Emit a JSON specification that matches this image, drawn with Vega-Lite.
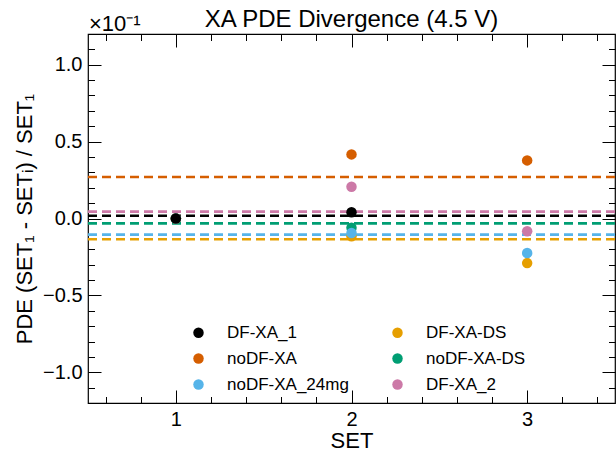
{
  "$schema": "https://vega.github.io/schema/vega-lite/v6.json",
  "width": 527,
  "height": 369,
  "autosize": {"type": "none"},
  "padding": {"left": 88, "top": 34, "right": 1, "bottom": 49},
  "title": {"text": "XA PDE Divergence (4.5 V)", "fontSize": 24, "font": "Liberation Sans", "fontWeight": "normal", "color": "#000", "anchor": "middle", "offset": -19},
  "config": {
    "font": "Liberation Sans",
    "view": {"stroke": "#000", "strokeWidth": 1.2},
    "axis": {"grid": false, "domain": false, "tickColor": "#000", "tickWidth": 1, "labelColor": "#000", "titleColor": "#000", "labelFont": "Liberation Sans", "titleFont": "Liberation Sans", "labelFontSize": 20, "titleFontSize": 22, "titleFontWeight": "normal"}
  },
  "datasets": {
    "points": [
      {"series": "noDF-XA", "set": 1, "pde": 0},
      {"series": "noDF-XA", "set": 2, "pde": 0.417},
      {"series": "noDF-XA", "set": 3, "pde": 0.378},
      {"series": "DF-XA_2", "set": 1, "pde": 0},
      {"series": "DF-XA_2", "set": 2, "pde": 0.207},
      {"series": "DF-XA_2", "set": 3, "pde": -0.083},
      {"series": "noDF-XA-DS", "set": 1, "pde": 0},
      {"series": "noDF-XA-DS", "set": 2, "pde": -0.06},
      {"series": "DF-XA-DS", "set": 1, "pde": 0},
      {"series": "DF-XA-DS", "set": 2, "pde": -0.116},
      {"series": "DF-XA-DS", "set": 3, "pde": -0.29},
      {"series": "noDF-XA_24mg", "set": 1, "pde": 0},
      {"series": "noDF-XA_24mg", "set": 2, "pde": -0.094},
      {"series": "noDF-XA_24mg", "set": 3, "pde": -0.224},
      {"series": "DF-XA_1", "set": 1, "pde": 0},
      {"series": "DF-XA_1", "set": 2, "pde": 0.041}
    ],
    "means": [
      {"series": "noDF-XA", "mean": 0.27},
      {"series": "DF-XA-DS", "mean": -0.135},
      {"series": "noDF-XA_24mg", "mean": -0.105},
      {"series": "noDF-XA-DS", "mean": -0.032},
      {"series": "DF-XA_2", "mean": 0.045},
      {"series": "DF-XA_1", "mean": 0.018}
    ],
    "label": [{"t": "×10⁻¹", "x": 0.5, "y": 1.2}]
  },
  "layer": [
    {
      "data": {"name": "means"},
      "mark": {"type": "rule", "strokeDash": [9, 5], "strokeWidth": 2.6},
      "encoding": {
        "y": {"field": "mean", "type": "quantitative",
          "scale": {"domain": [-1.2, 1.2], "nice": false, "zero": false},
          "axis": {"orient": "left", "title": "PDE (SET₁ - SETᵢ) / SET₁", "titlePadding": 6,
            "values": [-1.1, -1.0, -0.9, -0.8, -0.7, -0.6, -0.5, -0.4, -0.3, -0.2, -0.1, 0, 0.1, 0.2, 0.3, 0.4, 0.5, 0.6, 0.7, 0.8, 0.9, 1.0, 1.1],
            "labelExpr": "abs(datum.value*2 - round(datum.value*2)) < 0.001 ? format(datum.value, '.1f') : ''",
            "tickSize": {"condition": {"test": "abs(datum.value*2 - round(datum.value*2)) < 0.001", "value": -13}, "value": -6.5},
            "labelPadding": 19}},
        "stroke": {"field": "series", "type": "nominal", "legend": null,
          "scale": {"domain": ["noDF-XA", "DF-XA-DS", "noDF-XA_24mg", "noDF-XA-DS", "DF-XA_2", "DF-XA_1"],
                    "range": ["#D55E00", "#E69F00", "#56B4E9", "#009E73", "#CC79A7", "#000000"]}}
      }
    },
    {
      "data": {"name": "points"},
      "mark": {"type": "point", "filled": true, "opacity": 1, "size": 110},
      "encoding": {
        "x": {"field": "set", "type": "quantitative",
          "scale": {"domain": [0.5, 3.5], "nice": false, "zero": false},
          "axis": {"orient": "bottom", "title": "SET", "titlePadding": 1,
            "values": [0.6, 0.8, 1, 1.2, 1.4, 1.6, 1.8, 2, 2.2, 2.4, 2.6, 2.8, 3, 3.2, 3.4],
            "labelExpr": "abs(datum.value - round(datum.value)) < 0.001 ? format(datum.value, 'd') : ''",
            "tickSize": {"condition": {"test": "abs(datum.value - round(datum.value)) < 0.001", "value": -13}, "value": -6.5},
            "labelPadding": 19}},
        "y": {"field": "pde", "type": "quantitative",
          "scale": {"domain": [-1.2, 1.2], "nice": false, "zero": false},
          "axis": {"orient": "right", "title": null, "labels": false,
            "values": [-1.1, -1.0, -0.9, -0.8, -0.7, -0.6, -0.5, -0.4, -0.3, -0.2, -0.1, 0, 0.1, 0.2, 0.3, 0.4, 0.5, 0.6, 0.7, 0.8, 0.9, 1.0, 1.1],
            "tickSize": {"condition": {"test": "abs(datum.value*2 - round(datum.value*2)) < 0.001", "value": -13}, "value": -6.5}}},
        "color": {"field": "series", "type": "nominal",
          "scale": {"domain": ["DF-XA_1", "noDF-XA", "noDF-XA_24mg", "DF-XA-DS", "noDF-XA-DS", "DF-XA_2"],
                    "range": ["#000000", "#D55E00", "#56B4E9", "#E69F00", "#009E73", "#CC79A7"]},
          "legend": {"orient": "none", "legendX": 102, "legendY": 290, "title": null, "columns": 2,
            "columnPadding": 40, "rowPadding": 8, "symbolType": "circle", "symbolSize": 110,
            "symbolOpacity": 1, "labelOffset": 20, "labelFontSize": 17, "labelColor": "#000", "labelLimit": 300}}
      }
    },
    {
      "data": {"name": "label"},
      "mark": {"type": "text", "align": "left", "baseline": "alphabetic", "fontSize": 22, "dx": 1, "dy": -3, "color": "#000"},
      "encoding": {
        "text": {"field": "t"},
        "x": {"field": "x", "type": "quantitative",
          "scale": {"domain": [0.5, 3.5], "nice": false, "zero": false},
          "axis": {"orient": "top", "title": null, "labels": false,
            "values": [0.6, 0.8, 1, 1.2, 1.4, 1.6, 1.8, 2, 2.2, 2.4, 2.6, 2.8, 3, 3.2, 3.4],
            "tickSize": {"condition": {"test": "abs(datum.value - round(datum.value)) < 0.001", "value": -13}, "value": -6.5}}},
        "y": {"field": "y", "type": "quantitative", "scale": {"domain": [-1.2, 1.2], "nice": false, "zero": false}, "axis": null}
      }
    }
  ],
  "resolve": {"axis": {"x": "independent", "y": "independent"}}
}
